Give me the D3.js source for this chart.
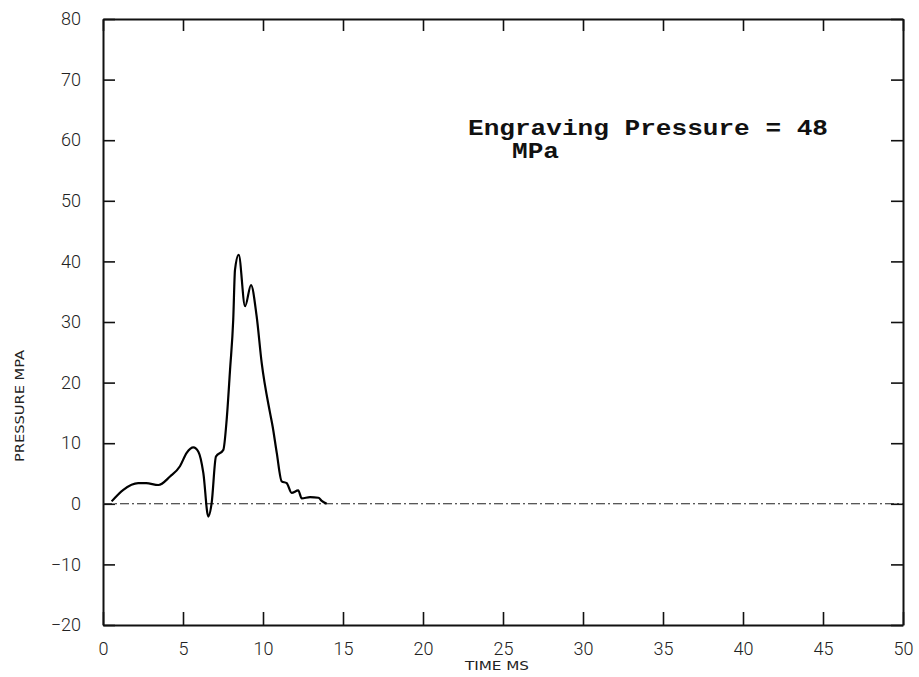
<!DOCTYPE html>
<html>
<head>
<meta charset="utf-8">
<script src="https://cdn.jsdelivr.net/npm/d3@7"></script>
<style>
  body { margin: 0; background: #fff; }
  .tick text { font-family: Roboto, "DejaVu Sans", sans-serif; font-weight: 300; fill: #222; }
</style>
</head>
<body>
<div class="canvas"></div>
<script>
// pressure trace
const timeMs = [0.54, 1.27, 2.2, 2.7, 3.46, 4.19, 4.81, 5.23, 5.65, 5.96, 6.27, 6.58, 6.79, 7.06, 7.52, 7.73, 7.94, 8.14, 8.25, 8.48, 8.88, 9.25, 9.6, 9.92, 10.44, 10.6, 10.86, 11.17, 11.48, 11.79, 12.2, 12.42, 12.94, 13.46, 13.67, 13.98]
const pressureMpa = [0.4, 2.3, 3.4, 3.4, 3.1, 4.5, 6.2, 8.4, 9.3, 8.6, 5.1, -2.1, 0.1, 7.8, 8.9, 13.9, 22.1, 30.4, 38.6, 41.1, 32.6, 36.1, 31.0, 23.2, 15.0, 12.8, 8.4, 3.7, 3.4, 1.8, 2.2, 0.9, 1.1, 1.0, 0.5, 0]

const xTicks = [0, 5, 10, 15, 20, 25, 30, 35, 40, 45, 50]
const yTicks = [-20, -10, 0, 10, 20, 30, 40, 50, 60, 70, 80]

const svg = d3.select('.canvas')
              .append('svg')
              .attr('width', 919)
              .attr('height', 677)

const padL = 103, padR = 903, padT = 19, padB = 625

const x = d3.scaleLinear().domain([0, 50]).range([padL, padR])
const y = d3.scaleLinear().domain([-20, 80]).range([padB, padT])

// frame + inward ticks
svg.append('g')
  .attr('transform', `translate(${padL},0)`)
  .call(d3.axisLeft(y).tickValues(yTicks).tickSizeInner(-12).tickSizeOuter(0).tickPadding(22))
  .call(g => g.selectAll('text').attr('font-size', 18))

svg.append('g')
  .attr('transform', `translate(0,${padB})`)
  .call(d3.axisBottom(x).tickValues(xTicks).tickSizeInner(-13).tickSizeOuter(0).tickPadding(17))
  .call(g => g.selectAll('text').attr('font-size', 18))

svg.append('g')
  .attr('transform', `translate(0,${padT})`)
  .call(d3.axisTop(x).tickValues(xTicks).tickSizeInner(-12).tickSizeOuter(0).tickFormat(''))

svg.append('g')
  .attr('transform', `translate(${padR},0)`)
  .call(d3.axisRight(y).tickValues(yTicks).tickSizeInner(-12).tickSizeOuter(0).tickFormat(''))

svg.selectAll('.domain').attr('stroke', '#111').attr('stroke-width', 2)
svg.selectAll('.tick line').attr('stroke', '#111').attr('stroke-width', 1.6)

// zero line
svg.append('line')
  .attr('x1', x(0)).attr('x2', x(50))
  .attr('y1', y(0)).attr('y2', y(0))
  .attr('stroke', '#222')
  .attr('stroke-width', 1.1)
  .attr('stroke-dasharray', '9,3,2,3')

const line = d3.line()
  .x((d, i) => x(timeMs[i]))
  .y(d => y(d))
  .curve(d3.curveMonotoneX)

svg.append('path')
  .attr('d', line(pressureMpa))
  .attr('fill', 'none')
  .attr('stroke', '#000')
  .attr('stroke-width', 2.2)
  .attr('stroke-linejoin', 'round')

// labels
svg.append('text')
  .attr('x', 465).attr('y', 670)
  .attr('textLength', 64)
  .attr('lengthAdjust', 'spacingAndGlyphs')
  .attr('font-family', '"Liberation Sans Narrow", "DejaVu Sans Condensed", sans-serif')
  .attr('font-size', 12)
  .attr('fill', '#222')
  .text('TIME MS')

svg.append('text')
  .attr('transform', 'translate(24,462) rotate(-90)')
  .attr('textLength', 112)
  .attr('lengthAdjust', 'spacingAndGlyphs')
  .attr('font-family', '"Liberation Sans Narrow", "DejaVu Sans Condensed", sans-serif')
  .attr('font-size', 12)
  .attr('fill', '#222')
  .text('PRESSURE MPA')

const note = svg.append('g')
  .attr('font-family', '"Liberation Mono", "DejaVu Sans Mono", monospace')
  .attr('font-weight', 'bold')
  .attr('font-size', 22)
  .attr('fill', '#111')

note.append('text')
  .attr('x', 468).attr('y', 135)
  .attr('textLength', 360)
  .attr('lengthAdjust', 'spacingAndGlyphs')
  .text('Engraving Pressure = 48')

note.append('text')
  .attr('x', 512).attr('y', 158)
  .attr('textLength', 47)
  .attr('lengthAdjust', 'spacingAndGlyphs')
  .text('MPa')
</script>
</body>
</html>
